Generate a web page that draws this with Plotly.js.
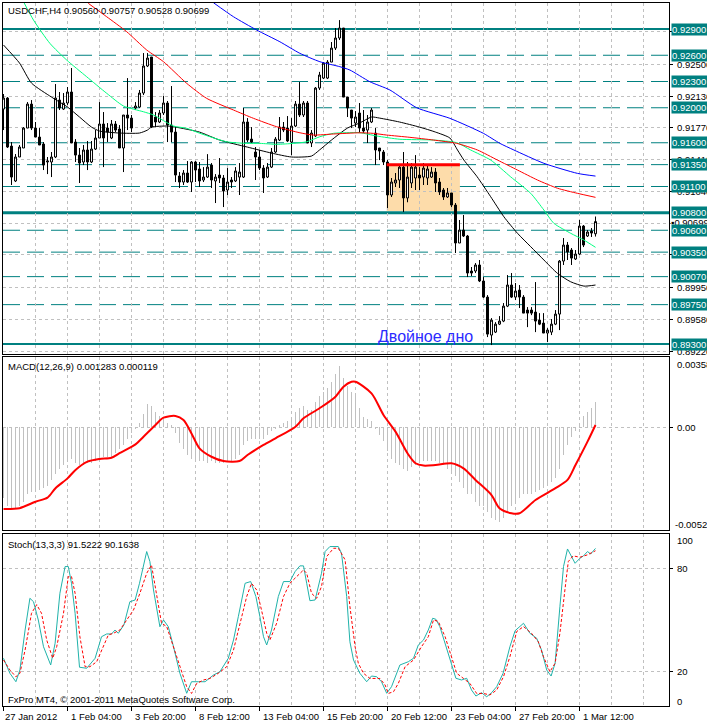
<!DOCTYPE html>
<html><head><meta charset="utf-8">
<script src="https://cdn.plot.ly/plotly-3.0.1.min.js"></script>
<style>html,body{margin:0;padding:0;background:#fff;overflow:hidden}#chart{width:707px;height:724px}</style>
</head><body><div id="chart"></div>
<script>
// ---------- DATA ----------
const symbol = "USDCHF,H4";
const openP = [.91985,.92111,.91562,.91163,.91437,.9154,.91768,.92042,.91768,.91665,.91585,.9138,.9138,.91437,.92088,.91985,.92054,.9218,.91608,.91459,.9138,.91517,.9138,.91528,.91654,.91814,.91768,.91654,.91814,.91757,.9154,.91917,.91882,.91997,.92008,.92168,.92477,.9258,.91894,.91837,.9194,.92054,.91802,.91722,.9122,.91151,.91254,.91151,.9138,.913,.91174,.91208,.91345,.91163,.91231,.91197,.9106,.91174,.91163,.91208,.91208,.91837,.91642,.91494,.91437,.91311,.91208,.91322,.91494,.91631,.91779,.91768,.91608,.91791,.92042,.91917,.92054,.91597,.91677,.92225,.92339,.92339,.92522,.92682,.92797,.92911,.92122,.91974,.91825,.9194,.91768,.91745,.91837,.91711,.9154,.91494,.9138,.91003,.9114,.91174,.91322,.90969,.9114,.91197,.91231,.91208,.91197,.91208,.91265,.91151,.9106,.9098,.91026,.90888,.90454,.90602,.90534,.90134,.90134,.90203,.9002,.89836,.89402,.89436,.89527,.89562,.89733,.89974,.89836,.89916,.89836,.89688,.89688,.89665,.89573,.89539,.89425,.89436,.89527,.89642,.90248,.90431,.90374,.90271,.90328,.90648,.90534,.90591,.9056];
const highP = [.92157,.92122,.91608,.91471,.91574,.91779,.92065,.92088,.91837,.91768,.91608,.91437,.91494,.92271,.9218,.92168,.92237,.92454,.91642,.9154,.91574,.9162,.9162,.91745,.92065,.91951,.91825,.9186,.91848,.91802,.91917,.92339,.91917,.92065,.92203,.92625,.92625,.9258,.91951,.91974,.92134,.92077,.92248,.91779,.91265,.91288,.91391,.91391,.91391,.9138,.91322,.9147,.91368,.91242,.91425,.91231,.91311,.91208,.91322,.91368,.91997,.91882,.91779,.91551,.91517,.91345,.91368,.9154,.91665,.91894,.91837,.91905,.91882,.92077,.92294,.92077,.92077,.91745,.92237,.9241,.92522,.92545,.92751,.92911,.93002,.92911,.92122,.91974,.91962,.92054,.91974,.91917,.91997,.91768,.9154,.91517,.91402,.91197,.91254,.91345,.91494,.9138,.91368,.91459,.91322,.91368,.91345,.91322,.91311,.91197,.91083,.91083,.91026,.90911,.90717,.90774,.90546,.9018,.90225,.9026,.90065,.89859,.89596,.8955,.89619,.89768,.90088,.90111,.89997,.89974,.89859,.89722,.89722,.90008,.89653,.89653,.89482,.89585,.89688,.9026,.90511,.90466,.90397,.90374,.90717,.9066,.90602,.90625,.90757];
const lowP = [.91745,.9154,.91117,.91151,.91437,.9154,.91768,.91745,.91665,.91574,.91288,.91242,.91208,.91425,.91974,.91974,.92031,.91597,.9138,.9114,.91345,.91288,.91368,.91517,.91654,.91322,.91608,.91642,.91722,.9154,.91265,.91745,.91722,.91974,.91997,.92145,.92465,.91768,.91779,.91825,.91917,.91608,.91608,.91151,.91083,.91117,.9114,.91037,.91151,.91094,.91151,.91197,.91083,.90911,.9114,.90865,.91003,.91083,.91151,.91003,.91197,.91608,.91597,.91174,.91288,.91026,.91197,.91311,.91482,.9162,.91722,.91608,.91459,.91779,.91894,.91894,.91597,.91551,.91665,.92203,.92328,.92328,.92522,.9266,.92774,.92122,.91894,.91768,.91779,.91711,.91711,.91597,.91825,.91345,.91402,.91345,.90854,.9098,.91094,.91083,.90808,.9092,.91083,.9106,.9106,.91117,.91117,.91197,.91037,.91003,.90946,.90969,.90865,.9034,.90454,.90523,.90065,.90077,.90111,.90008,.89825,.89379,.89288,.89425,.89516,.8955,.89722,.89825,.89802,.89711,.89653,.89493,.8963,.89436,.89516,.89425,.89322,.89402,.89516,.89459,.90203,.9026,.90203,.9026,.90317,.90408,.90523,.90523,.90528];
const closeP = [.92111,.91551,.91208,.91437,.91551,.91768,.92042,.91768,.91665,.91574,.91345,.91391,.91437,.92111,.91997,.92054,.9218,.91597,.91459,.91368,.91517,.9138,.91528,.91654,.91814,.91654,.91722,.91814,.91745,.9154,.91917,.91882,.91768,.9202,.92168,.92477,.92568,.91779,.91837,.9194,.92054,.91802,.91722,.91231,.91151,.91254,.91151,.9138,.91288,.91163,.91208,.91322,.91174,.91208,.91197,.91048,.91151,.91151,.91277,.91265,.91837,.91631,.91608,.91437,.91311,.91197,.91322,.91494,.91642,.91779,.91745,.9162,.91791,.92042,.91917,.92054,.91597,.91711,.92225,.92374,.9251,.92522,.92682,.92797,.92911,.92122,.91997,.91882,.91894,.91768,.91734,.91837,.91974,.91517,.91505,.9138,.91003,.91151,.91174,.91322,.90969,.91208,.91322,.91322,.91197,.91311,.913,.91265,.9114,.91037,.9098,.91026,.90888,.90454,.90602,.90534,.90111,.90111,.90203,.9002,.89836,.89413,.89573,.89527,.89562,.89733,.89974,.89836,.89905,.89836,.89653,.89653,.89653,.89562,.89527,.89425,.89459,.89527,.89642,.90248,.90431,.90351,.90282,.90328,.90648,.90431,.9058,.90568,.90699];

// moving averages (bar index, price)
const maBlackX = [0,4,7,12,16,19,22,24,29,34,36,37,41,43,49,54,61,67,72,77,79,82,86,89,92,94,99,104,108,111.6,113.5,115.1,118.4,121.8,125.1,128.5,131.8,135.1,138.5,141.8,145.1,148];
const maBlackY = [.92717,.92511,.92282,.92122,.92008,.91894,.91779,.91734,.91711,.91711,.91745,.91779,.91791,.91779,.91722,.91631,.9155,.91482,.91437,.91448,.91517,.91631,.91768,.91825,.91894,.91882,.91837,.91779,.91722,.91654,.91517,.91402,.91212,.90983,.90754,.90565,.90412,.9026,.90107,.90011,.89962,.89974];
const maGreenX = [5,7.5,11.6,15.8,20.8,25.8,30,35,37.5,42.5,45.8,49.1,55.8,60.8,64.1,68.3,72.5,75.8,79.1,82.5,85.8,89.1,93.3,99.1,107.5,113.3,116.8,121.8,126.8,131.8,135.1,137.6,141.8,145.1,148];
const maGreenY = [.93212,.93002,.92736,.92545,.92354,.92165,.9202,.91954,.91917,.91791,.91765,.91708,.91611,.91593,.91593,.91582,.91593,.91611,.91669,.91708,.91715,.91715,.91677,.9164,.91631,.91601,.91517,.91402,.9121,.91022,.90831,.90679,.90565,.90488,.90405];
const maRedX = [21.2,25.8,30.8,35.8,40,45.8,50.8,57.5,62.5,68.3,74.1,77.5,82.5,89.1,92.5,95.8,101.6,107.5,113.3,118.5,123.5,128.5,133.5,138.5,143.5,148];
const maRedY = [.93193,.9304,.92869,.9266,.92526,.92279,.92107,.91974,.91879,.91783,.91714,.91688,.917,.91714,.91707,.91688,.91662,.91631,.91593,.91517,.91402,.91288,.91174,.9108,.91022,.90976];
const maBlueX = [52.5,57.5,63.3,69.1,74.1,79.1,84.1,86.6,91.6,96.6,103.3,111.6,120,124.1,127.6,135.1,143.5,148];
const maBlueY = [.932,.9304,.92888,.92754,.92622,.92526,.92469,.92431,.92297,.92203,.92,.91879,.91707,.91593,.91517,.91365,.9125,.91219];

// horizontal levels
const solidLevels = [0.929, 0.908, 0.893];
const dashedLevels = [0.926, 0.923, 0.920, 0.916, 0.9135, 0.911, 0.906, 0.9035, 0.9007, 0.8975];
const gridPrices = [0.8922,0.8958,0.8995,0.9032,0.9068,0.9104,0.9141,0.9177,0.9213,0.9250,0.9287];
const bidPrice = 0.90699;

// pattern box and label
const patternBox = {x0: 95.8, x1: 114.1, y0: 0.9082, y1: 0.9135};
const patternText = "Двойное дно";
const patternTextPos = {x: 93.1, y: 0.8939};

// MACD
const macdHist = [-0.0036,-0.0040,-0.0041,-0.0041,-0.0040,-0.0038,-0.0034,-0.0033,-0.0033,-0.0032,
-0.0031,-0.0030,-0.0027,-0.0024,-0.0021,-0.0019,-0.0017,-0.0016,-0.0018,-0.0019,
-0.0019,-0.0018,-0.0018,-0.0017,-0.0016,-0.0015,-0.0015,-0.0015,-0.0013,-0.0011,
-0.0009,-0.0006,-0.0003,-0.0001,0.0002,0.0007,0.0012,0.0011,0.0008,0.0006,
0.0004,0.0002,0.0001,-0.0003,-0.0008,-0.0011,-0.0014,-0.0016,-0.0016,-0.0017,
-0.0017,-0.0018,-0.0017,-0.0018,-0.0018,-0.0018,-0.0017,-0.0017,-0.0016,-0.0014,
-0.0009,-0.0007,-0.0006,-0.0006,-0.0006,-0.0006,-0.0004,-0.0002,-0.0001,0.0001,
0.0002,0.0003,0.0005,0.0008,0.0010,0.0011,0.0009,0.0009,0.0013,0.0016,
0.0018,0.0020,0.0023,0.0027,0.0031,0.0025,0.0021,0.0018,0.0016,0.0010,
0.00055,0.0004,0.0003,-0.0001,-0.0004,-0.0007,-0.0012,-0.0016,-0.0018,-0.0019,
-0.0021,-0.0022,-0.0020,-0.0019,-0.0018,-0.0017,-0.0017,-0.0017,-0.0017,-0.0018,
-0.0019,-0.0021,-0.0023,-0.0025,-0.0028,-0.0031,-0.0034,-0.0034,-0.0038,-0.0040,
-0.0040,-0.0043,-0.0046,-0.0047,-0.0048,-0.0046,-0.0043,-0.0040,-0.0039,-0.0036,
-0.0034,-0.0034,-0.0034,-0.0033,-0.0032,-0.0031,-0.0030,-0.0028,-0.0026,-0.0021,
-0.0014,-0.0009,-0.0005,-0.0002,0.0002,0.0006,0.0008,0.0010,0.001283];
const macdSigX = [0,4,8,11,13,16,18,21,24,27,29,33,35,38,40,43,45,47,49,52,55,59,61,65,68,73,75,79,83,85,87,88,92,95,98,101,103,105,108,112,115,118,122,124,127,129,133,138,141,143,146,148];
const macdSigY = [-0.00416,-0.00412,-0.00379,-0.00358,-0.0031,-0.0026,-0.00217,-0.00175,-0.00161,-0.00155,-0.00132,-0.00087,-0.00048,0.00012,0.00049,0.00058,0.00037,-0.00031,-0.00107,-0.0015,-0.00172,-0.00172,-0.00141,-0.0009,-0.00056,0.00003,0.00046,0.00097,0.00156,0.00207,0.00232,0.00232,0.00173,0.00063,-0.00022,-0.00132,-0.00183,-0.00195,-0.00192,-0.00183,-0.00209,-0.00268,-0.00345,-0.00412,-0.00438,-0.00438,-0.0037,-0.0031,-0.00268,-0.00192,-0.00073,0.000119];
const macdMax = 0.00358, macdMin = -0.00523;

// Stochastic
const stochMainX = [0,1.6,3.1,4.1,5.4,6.6,7.5,8.7,10,11.8,12.9,14.1,15.4,16.2,17,17.9,19,20.8,22.9,24.5,25.8,27,27.9,28.7,30.1,31.6,32.9,34,35.8,36.6,37.5,39.1,40,41.2,42.5,44.1,45.8,47,48.7,50.4,52.5,54.1,56.2,57.5,58.7,59.5,60.4,61.8,63.1,64.1,65,65.8,67,68.7,70,71.6,72.9,74.1,75,75.8,76.6,77.9,79.5,80.4,81.6,83.7,84.5,85.8,86.6,87.5,89.1,90.8,92,93.3,94.5,95.8,97,99.1,101.2,102.5,103.7,105,106.2,107.3,108.1,109.1,110.4,111.6,113.1,114.5,115.8,117,118.1,119.5,120.8,122,123.3,124.9,126.6,127.9,130,131.6,133.3,134.5,135.8,136.9,137.9,139.1,140,141,142.1,142.9,144.1,145,146,146.8,148];
const stochMainY = [27.8,19.1,14.2,21,44.2,62.6,60.6,50,34.5,23.9,36.5,65.5,81,81,71.3,53.9,22.6,22,27.8,40.3,41.9,41.9,44.2,42.3,47.1,60.6,61.6,71.3,89.7,83.9,67.4,46.1,50,46.1,34.5,19.1,7.5,14.2,14.2,14.2,18.1,20,27.8,38.4,51.9,61.6,71.3,72.3,63.6,51.9,40.3,35.5,44.2,63.6,72.3,72.3,78.1,81.4,81.4,71.3,61.2,61.6,77.1,89.7,92.6,92.6,88.7,63.6,37.4,26.8,19.1,14.2,17.5,17.1,14.2,7.5,11.3,23.9,25.8,27.8,35.5,38.4,44.2,51,50.4,46.1,36.5,26.8,16.2,15.2,16.2,9.4,5.9,7.8,5.5,7.8,11.3,19.1,34.5,43.8,48.1,42.3,39.4,32.6,21,17.5,24.9,57.7,81,91.2,86.8,82.9,85.8,87.2,89.7,88.3,91.5222];
const stochSigX = [0,1.6,3.1,4.1,5.4,7,8.3,9.5,10.8,12.3,13.3,15,16.2,17,17.9,19.1,20.4,21.6,23.3,25,26.2,27.5,29.1,30.8,32.5,34.1,35.8,37,38.3,39.5,40.8,42.5,44.1,45.8,47,48.3,50,51.6,53.7,55.8,57.5,59.1,60.8,62,63.3,64.5,65.8,66.6,68.3,70,71.6,73.3,75,75.8,77,78.3,79.5,80.8,82.5,83.7,85.4,86.6,87.9,88.7,90,91.6,94.1,95.4,96.2,97.5,98.7,100.4,102.5,104.5,106.2,107.5,108.7,110.4,112,113.3,115,116.6,118.3,120,121.6,123.3,125,126.6,128.3,130,132,133.7,135,136.6,137.9,139.1,140.4,141.2,142.4,144.1,146,148];
const stochSigY = [26.8,21,17.1,19.1,32.6,53.9,58.9,53.9,38.4,27.8,34.5,53.9,75.2,75.2,65.5,40.3,22.9,22.9,25.8,35.5,41.3,42.3,44.2,50,55.8,65.5,77.1,81.9,63.6,48.2,46.2,34.5,22.9,11.3,7.4,13.2,15.2,16.1,19.1,22.9,32.6,48.2,63.6,71.3,67.4,55.8,42.3,38.4,48.2,63.6,71.3,75.2,79,77.1,65.5,62.6,69.4,86.8,91.6,91.6,84.9,57.9,34.5,24.9,19.1,16.1,16.1,12.3,7.4,8.4,13.2,22.9,26.8,34.5,40.3,50,49.2,40.3,28.7,19.1,16.1,13.2,7.4,7.4,6.5,9.4,17.1,28.7,43.3,46.2,42.3,37.4,28.7,20,24.9,42.3,68.4,83.9,87.2,86.4,87.8,90.1638];
const stochLevels = [20, 80];

// time axis
const dateLabels = ["27 Jan 2012","1 Feb 04:00","3 Feb 20:00","8 Feb 12:00","13 Feb 04:00","15 Feb 20:00","20 Feb 12:00","23 Feb 04:00","27 Feb 20:00","1 Mar 12:00"];
const dateLabelBars = [0,16,32,48,64,80,96,112,128,144];

// ---------- DRAW ----------
const W = 707, H = 724;
const px = v => v / W, py = v => 1 - v / H;
const bars = openP.map((_, i) => i);
const n = bars.length - 1;
const FONT = 'Liberation Sans, Arial, sans-serif';
const FS = 9.5;
const TEAL = '#008080';
const GRID = '#c0c0c0';

const traces = [];
traces.push({type:'candlestick', x:bars, open:openP, high:highP, low:lowP, close:closeP,
  increasing:{line:{color:'#000',width:1}, fillcolor:'#ffffff'},
  decreasing:{line:{color:'#000',width:1}, fillcolor:'#000000'},
  whiskerwidth:0, hoverinfo:'skip', xaxis:'x', yaxis:'y'});
const maLine = (x,y,c) => ({type:'scatter', mode:'lines', x, y, line:{color:c,width:1,shape:'spline',smoothing:0.6}, hoverinfo:'skip', xaxis:'x', yaxis:'y'});
traces.push(maLine(maBlackX, maBlackY, '#000000'));
traces.push(maLine(maGreenX, maGreenY, '#00ff7f'));
traces.push(maLine(maRedX, maRedY, '#ff0000'));
traces.push(maLine(maBlueX, maBlueY, '#0000ff'));

traces.push({type:'bar', x:bars, y:macdHist, width:0.25, marker:{color:GRID, line:{width:0}}, hoverinfo:'skip', xaxis:'x2', yaxis:'y2'});
traces.push({type:'scatter', mode:'lines', x:macdSigX, y:macdSigY, line:{color:'#ff0000',width:2,shape:'spline',smoothing:0.8}, hoverinfo:'skip', xaxis:'x2', yaxis:'y2'});

traces.push({type:'scatter', mode:'lines', x:stochMainX, y:stochMainY, line:{color:'#20b2aa',width:1}, hoverinfo:'skip', xaxis:'x3', yaxis:'y3'});
traces.push({type:'scatter', mode:'lines', x:stochSigX, y:stochSigY, line:{color:'#ff0000',width:1,dash:'3px,2px'}, hoverinfo:'skip', xaxis:'x3', yaxis:'y3'});

const xRange = [-0.125, 166.375];
const xBase = {range:xRange, showticklabels:false, ticks:'', showgrid:true, tick0:8, dtick:8,
  gridcolor:GRID, griddash:'3px,3px', gridwidth:1, zeroline:false, showline:true, mirror:true,
  linecolor:'#000', linewidth:1, fixedrange:true, domain:[px(3), px(669)]};
const yBase = {side:'right', showticklabels:false, ticks:'outside', ticklen:3, tickcolor:'#000',
  showgrid:true, gridcolor:GRID, griddash:'3px,3px', gridwidth:1, zeroline:false, showline:true,
  mirror:true, linecolor:'#000', linewidth:1, fixedrange:true};

const mainTop = 3, mainBot = 354;
const pxPerUnit = 8750;
const yTopVal = 0.929 + (29 - mainTop) / pxPerUnit;
const yBotVal = yTopVal - (mainBot - mainTop) / pxPerUnit;

const shapes = [];
const annotations = [];
const txt = (o) => Object.assign({showarrow:false, font:{family:FONT,size:FS,color:'#000'}}, o);
// levels
dashedLevels.forEach(p => shapes.push({type:'line', xref:'paper', x0:px(3), x1:px(669), yref:'y', y0:p, y1:p, layer:'between', line:{color:TEAL, width:1, dash:'17px,7px'}}));
solidLevels.forEach(p => shapes.push({type:'line', xref:'paper', x0:px(3), x1:px(669), yref:'y', y0:p, y1:p, layer:'between', line:{color:TEAL, width:(p===0.908?3:2)}}));
// pattern rectangle and top line
shapes.push({type:'rect', xref:'x', yref:'y', x0:patternBox.x0, x1:patternBox.x1, y0:patternBox.y0, y1:patternBox.y1, fillcolor:'#fddcaa', line:{width:0}, layer:'below'});
shapes.push({type:'line', xref:'x', yref:'y', x0:patternBox.x0, x1:patternBox.x1, y0:patternBox.y1, y1:patternBox.y1, line:{color:'#ff0000', width:3}, layer:'above'});
// bottom time ticks
dateLabelBars.forEach(b => shapes.push({type:'line', xref:'x3', yref:'paper', x0:b, x1:b, y0:py(707), y1:py(711), line:{color:'#000', width:1}}));

// right price labels: grid first, bid label, then level boxes
gridPrices.forEach(p => annotations.push(txt({xref:'paper', x:px(675), xanchor:'left', yref:'y', y:p, yanchor:'middle', text:p.toFixed(5)})));
annotations.push(txt({xref:'paper', x:px(670), xanchor:'left', yref:'y', y:bidPrice, yanchor:'middle', text:'<b>▪</b>' + bidPrice.toFixed(5), bgcolor:'#ffffff', width:40, height:10, align:'left', borderpad:0}));
dashedLevels.concat(solidLevels).forEach(p => annotations.push(txt({xref:'paper', x:px(671), xanchor:'left', yref:'y', y:p, yanchor:'middle', text:p.toFixed(5), bgcolor:TEAL, width:40, height:11, align:'left', borderpad:0, font:{family:FONT,size:FS,color:'#fff'}})));

// headers
const last = n;
annotations.push(txt({xref:'paper', yref:'paper', x:px(6), y:py(11), xanchor:'left', yanchor:'middle',
  text: symbol + ' ' + [openP[last], highP[last], lowP[last], closeP[last]].map(v => v.toFixed(5)).join(' ')}));
annotations.push(txt({xref:'paper', yref:'paper', x:px(6), y:py(367), xanchor:'left', yanchor:'middle',
  text: 'MACD(12,26,9) ' + macdHist[last].toFixed(6) + ' ' + macdSigY[macdSigY.length-1].toFixed(6)}));
annotations.push(txt({xref:'paper', yref:'paper', x:px(6), y:py(544), xanchor:'left', yanchor:'middle',
  text: 'Stoch(13,3,3) ' + stochMainY[stochMainY.length-1].toFixed(4) + ' ' + stochSigY[stochSigY.length-1].toFixed(4)}));
annotations.push(txt({xref:'paper', yref:'paper', x:px(6), y:py(699), xanchor:'left', yanchor:'middle',
  text: 'FxPro MT4, © 2001-2011 MetaQuotes Software Corp.'}));
// pattern label
annotations.push({xref:'x', yref:'y', x:patternTextPos.x, y:patternTextPos.y, xanchor:'left', yanchor:'middle', showarrow:false,
  text: patternText, font:{family:FONT,size:16,color:'#2b2bff'}});
// MACD axis labels
annotations.push(txt({xref:'paper', yref:'paper', x:px(675), y:py(364), xanchor:'left', yanchor:'middle', text:macdMax.toFixed(5)}));
annotations.push(txt({xref:'paper', yref:'y2', x:px(675), y:0, xanchor:'left', yanchor:'middle', text:'0.00'}));
annotations.push(txt({xref:'paper', yref:'paper', x:px(673), y:py(524), xanchor:'left', yanchor:'middle', text:macdMin.toFixed(5)}));
// Stoch axis labels
annotations.push(txt({xref:'paper', yref:'paper', x:px(675), y:py(540), xanchor:'left', yanchor:'middle', text:'100'}));
stochLevels.forEach(v => annotations.push(txt({xref:'paper', yref:'y3', x:px(675), y:v, xanchor:'left', yanchor:'middle', text:String(v)})));
annotations.push(txt({xref:'paper', yref:'paper', x:px(675), y:py(701), xanchor:'left', yanchor:'middle', text:'0'}));
// date labels
dateLabels.forEach((t, k) => annotations.push(txt({xref:'x3', yref:'paper', x:dateLabelBars[k], y:py(716), xanchor:'left', yanchor:'middle', xshift:(k===0?-1:1), text:t})));

const layout = {
  width:W, height:H, margin:{l:0,r:0,t:0,b:0}, paper_bgcolor:'#ffffff', plot_bgcolor:'#ffffff',
  showlegend:false, bargap:0, dragmode:false,
  font:{family:FONT, size:FS, color:'#000'},
  xaxis: Object.assign({}, xBase, {anchor:'y', rangeslider:{visible:false}}),
  xaxis2: Object.assign({}, xBase, {anchor:'y2', matches:'x'}),
  xaxis3: Object.assign({}, xBase, {anchor:'y3', matches:'x'}),
  yaxis: Object.assign({}, yBase, {anchor:'x', domain:[py(mainBot), py(mainTop)], range:[yBotVal, yTopVal], tickvals:gridPrices}),
  yaxis2: Object.assign({}, yBase, {anchor:'x2', domain:[py(530), py(357)], range:[macdMin, macdMax], tickvals:[0]}),
  yaxis3: Object.assign({}, yBase, {anchor:'x3', domain:[py(706.2), py(533.8)], range:[0,100], tickvals:stochLevels}),
  shapes, annotations
};
Plotly.newPlot('chart', traces, layout, {staticPlot:true, displayModeBar:false});
</script></body></html>
